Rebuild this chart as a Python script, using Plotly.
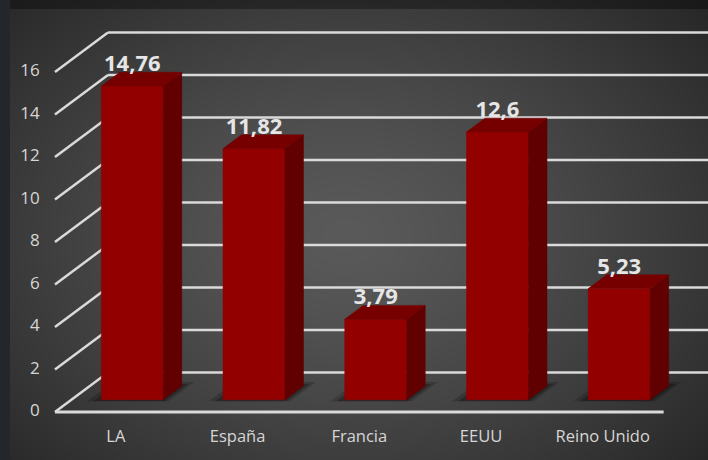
import base64, zlib, struct
import numpy as np
import plotly.graph_objects as go

# ---------------- data ----------------
categories = ["LA", "España", "Francia", "EEUU", "Reino Unido"]
values = [14.76, 11.82, 3.79, 12.6, 5.23]
value_labels = ["14,76", "11,82", "3,79", "12,6", "5,23"]
y_ticks = [0, 2, 4, 6, 8, 10, 12, 14, 16]

# ---------------- geometry (oblique 3D projection in data units) ----------------
W, H = 708, 460
DX, DY = 0.4353, 1.859      # offset of the back wall (z=1) relative to the front plane
ZF, ZB = 0.31, 0.66         # bar front / back depth
HW = 0.2545                 # half bar width
X0, X1 = -0.5, len(categories) - 0.5


def proj(x, y, z):
    return x + z * DX, y + z * DY


def poly(pts):
    xs, ys = zip(*[proj(*p) for p in pts])
    return list(xs) + [xs[0]], list(ys) + [ys[0]]


# ---------------- background image ----------------
yy, xx = np.mgrid[0:H, 0:W].astype(float)
r = np.sqrt(((xx - 345) / 400) ** 2 + ((yy - 235) / 290) ** 2)
c = 90 - 40 * r ** 1.3
c = np.clip(c, 38, 95)
img = np.stack([c, c, c], axis=-1)
img[yy < 9] *= 0.65
left = xx < 10
img[left] = np.array([35, 38, 42])
img = np.clip(img, 0, 255).astype(np.uint8)


def png_uri(a):
    h, w, _ = a.shape
    raw = b"".join(b"\x00" + a[i].tobytes() for i in range(h))

    def chunk(t, d):
        return struct.pack(">I", len(d)) + t + d + struct.pack(">I", zlib.crc32(t + d) & 0xFFFFFFFF)

    png = b"\x89PNG\r\n\x1a\n" + chunk(b"IHDR", struct.pack(">IIBBBBB", w, h, 8, 2, 0, 0, 0)) \
        + chunk(b"IDAT", zlib.compress(raw, 9)) + chunk(b"IEND", b"")
    return "data:image/png;base64," + base64.b64encode(png).decode()


fig = go.Figure()
GRID = "#dadada"

# back wall gridlines
for v in y_ticks:
    bx, by = proj(X0, v, 1)
    fig.add_trace(go.Scatter(x=[bx, 5.5], y=[by, by], mode="lines",
                             line=dict(color=GRID, width=2.5), hoverinfo="skip"))
# left wall diagonals
for v in y_ticks:
    fx, fy = proj(X0, v, 0)
    bx, by = proj(X0, v, 1)
    fig.add_trace(go.Scatter(x=[fx, bx], y=[fy, by], mode="lines",
                             line=dict(color=GRID, width=2.5), hoverinfo="skip"))
# floor front edge
fig.add_trace(go.Scatter(x=[X0, X1], y=[0, 0], mode="lines",
                         line=dict(color=GRID, width=3), hoverinfo="skip"))

# shadows
for i, v in enumerate(values):
    for grow, op in [(0.10, 0.18), (0.05, 0.25)]:
        xs, ys = poly([(i - HW - grow, 0, ZF - 0.04), (i + HW + grow * 0.6, 0, ZF - 0.04),
                       (i + HW + grow * 0.6, 0, ZB + grow), (i - HW - grow, 0, ZB + grow)])
        fig.add_trace(go.Scatter(x=xs, y=ys, mode="lines", fill="toself",
                                 fillcolor=f"rgba(0,0,0,{op})", line=dict(width=0),
                                 hoverinfo="skip"))

# bars
for i, v in enumerate(values):
    x0, x1 = i - HW, i + HW
    faces = [
        ([(x0, 0, ZF), (x1, 0, ZF), (x1, v, ZF), (x0, v, ZF)], "#930000"),
        ([(x1, 0, ZF), (x1, 0, ZB), (x1, v, ZB), (x1, v, ZF)], "#600000"),
        ([(x0, v, ZF), (x1, v, ZF), (x1, v, ZB), (x0, v, ZB)], "#760000"),
    ]
    for pts, col in faces:
        xs, ys = poly(pts)
        fig.add_trace(go.Scatter(x=xs, y=ys, mode="lines", fill="toself", fillcolor=col,
                                 line=dict(width=0.5, color=col), hoverinfo="skip"))

# data labels
lx, ly = [], []
for i, v in enumerate(values):
    px, py = proj(i, v, ZF)
    _, pyb = proj(i, v, ZB)
    lx.append(px)
    ly.append(pyb - 0.2)
fig.add_trace(go.Scatter(x=lx, y=ly, mode="text", text=value_labels, textposition="top center",
                         textfont=dict(family="Open Sans", size=22, color="#e6e6e6", weight="bold"),
                         hoverinfo="skip", cliponaxis=False))

# y tick labels
fig.add_trace(go.Scatter(x=[X0 - 0.125] * len(y_ticks), y=y_ticks, mode="text",
                         text=[str(t) for t in y_ticks], textposition="middle left",
                         textfont=dict(family="Open Sans", size=17, color="#d6d6d6"),
                         hoverinfo="skip", cliponaxis=False))
# category labels
fig.add_trace(go.Scatter(x=list(range(len(categories))), y=[-1.22] * len(categories), mode="text",
                         text=categories, textposition="middle center",
                         textfont=dict(family="Open Sans", size=16.5, color="#d6d6d6"),
                         hoverinfo="skip", cliponaxis=False))

fig.update_layout(
    width=W, height=H, margin=dict(l=0, r=0, t=0, b=0),
    showlegend=False,
    paper_bgcolor="#3a3a3a", plot_bgcolor="rgba(0,0,0,0)",
    xaxis=dict(range=[-0.9516, 4.8645], visible=False, fixedrange=True),
    yaxis=dict(range=[-2.2588, 19.388], visible=False, fixedrange=True),
    images=[dict(source=png_uri(img), xref="paper", yref="paper", x=0, y=1,
                 sizex=1, sizey=1, sizing="stretch", layer="below", xanchor="left", yanchor="top")],
)

fig.write_html("out.html", config={"displayModeBar": False},
               post_script="document.body.style.margin='0';document.body.style.overflow='hidden';")
